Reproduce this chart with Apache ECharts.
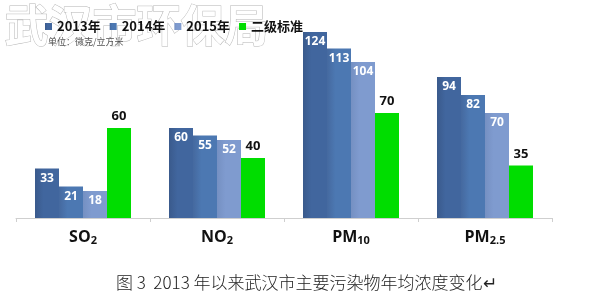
<!DOCTYPE html>
<html><head><meta charset="utf-8">
<script src="https://cdn.jsdelivr.net/npm/echarts@6/dist/echarts.min.js"></script>
<style>html,body{margin:0;padding:0;background:#fff}#c{width:601px;height:305px}</style>
</head><body><div id="c"></div>
<script>
var categories = ['SO2', 'NO2', 'PM10', 'PM2.5'];
var seriesNames = ['2013年', '2014年', '2015年', '二级标准'];
var v2013 = [33, 60, 124, 94];
var v2014 = [21, 55, 113, 82];
var v2015 = [18, 52, 104, 70];
var vStd = [60, 40, 70, 35];
var unitText = '单位：微克/立方米';
var caption = '图 3  2013 年以来武汉市主要污染物年均浓度变化↵';
var watermark = '武汉市环保局';

var chart = echarts.init(document.getElementById('c'), null, {renderer: 'canvas'});
function grad(a, b) {
  return new echarts.graphic.LinearGradient(0, 0, 1, 0, [
    {offset: 0, color: a}, {offset: 0.35, color: b}, {offset: 1, color: b}]);
}
var colors = [grad('#3a5a8c', '#41669e'), grad('#45699f', '#4c78b2'), grad('#7590c2', '#7f9bcf'), '#00dd00'];
var vals = [v2013, v2014, v2015, vStd];
var series = vals.map(function (d, i) {
  var isStd = i === 3;
  return {
    name: seriesNames[i], type: 'bar', data: d, barWidth: 24, barGap: '0%',
    itemStyle: {color: colors[i]},
    label: {
      show: true, position: isStd ? 'top' : 'insideTop', distance: isStd ? 5 : 4,
      color: isStd ? '#111' : '#fff', fontWeight: 'bold', fontSize: isStd ? 13 : 12,
      fontFamily: 'Open Sans, Liberation Sans, sans-serif'
    }
  };
});
var labMap = {'SO2': '{m|SO}{s|2}', 'NO2': '{m|NO}{s|2}', 'PM10': '{m|PM}{s|10}', 'PM2.5': '{m|PM}{s|2.5}'};
chart.setOption({
  animation: false,
  legend: {
    data: seriesNames, left: 40, top: 15, itemWidth: 7, itemHeight: 7, itemGap: 9,
    icon: 'rect',
    textStyle: {fontSize: 13, fontWeight: 'bold', color: '#111', fontFamily: 'Noto Sans CJK SC, sans-serif'}
  },
  grid: {left: 16, right: 49, top: 8, bottom: 87, containLabel: false},
  xAxis: {
    type: 'category', data: categories,
    axisLine: {lineStyle: {color: '#cfcfcf'}},
    axisTick: {show: true, length: 4, lineStyle: {color: '#cfcfcf'}},
    axisLabel: {
      margin: 11,
      formatter: function (v) { return labMap[v]; },
      rich: {
        m: {fontSize: 16, fontWeight: 'bold', color: '#111', fontFamily: 'Open Sans, sans-serif'},
        s: {fontSize: 11, fontWeight: 'bold', color: '#111', fontFamily: 'Open Sans, sans-serif', padding: [6, 0, 0, 0]}
      }
    }
  },
  yAxis: {type: 'value', min: 0, max: 140, show: false, splitLine: {show: false}},
  series: series,
  graphic: [
    {type: 'text', left: 4, top: 3, z: -1, silent: true,
      style: {text: watermark, fontSize: 44, fontWeight: 'bold', fontFamily: 'Noto Sans CJK SC, sans-serif',
        fill: '#ffffff', stroke: '#b4b4b4', lineWidth: 1, letterSpacing: 3}},
    {type: 'text', left: 48, top: 37,
      style: {text: unitText, fontSize: 9, fill: '#555', fontFamily: 'Noto Sans CJK SC, sans-serif'}},
    {type: 'text', left: 116, top: 274,
      style: {text: caption, fontSize: 17, fill: '#222', fontFamily: 'Noto Sans CJK SC, sans-serif', fontWeight: 300}}
  ]
});
</script></body></html>
